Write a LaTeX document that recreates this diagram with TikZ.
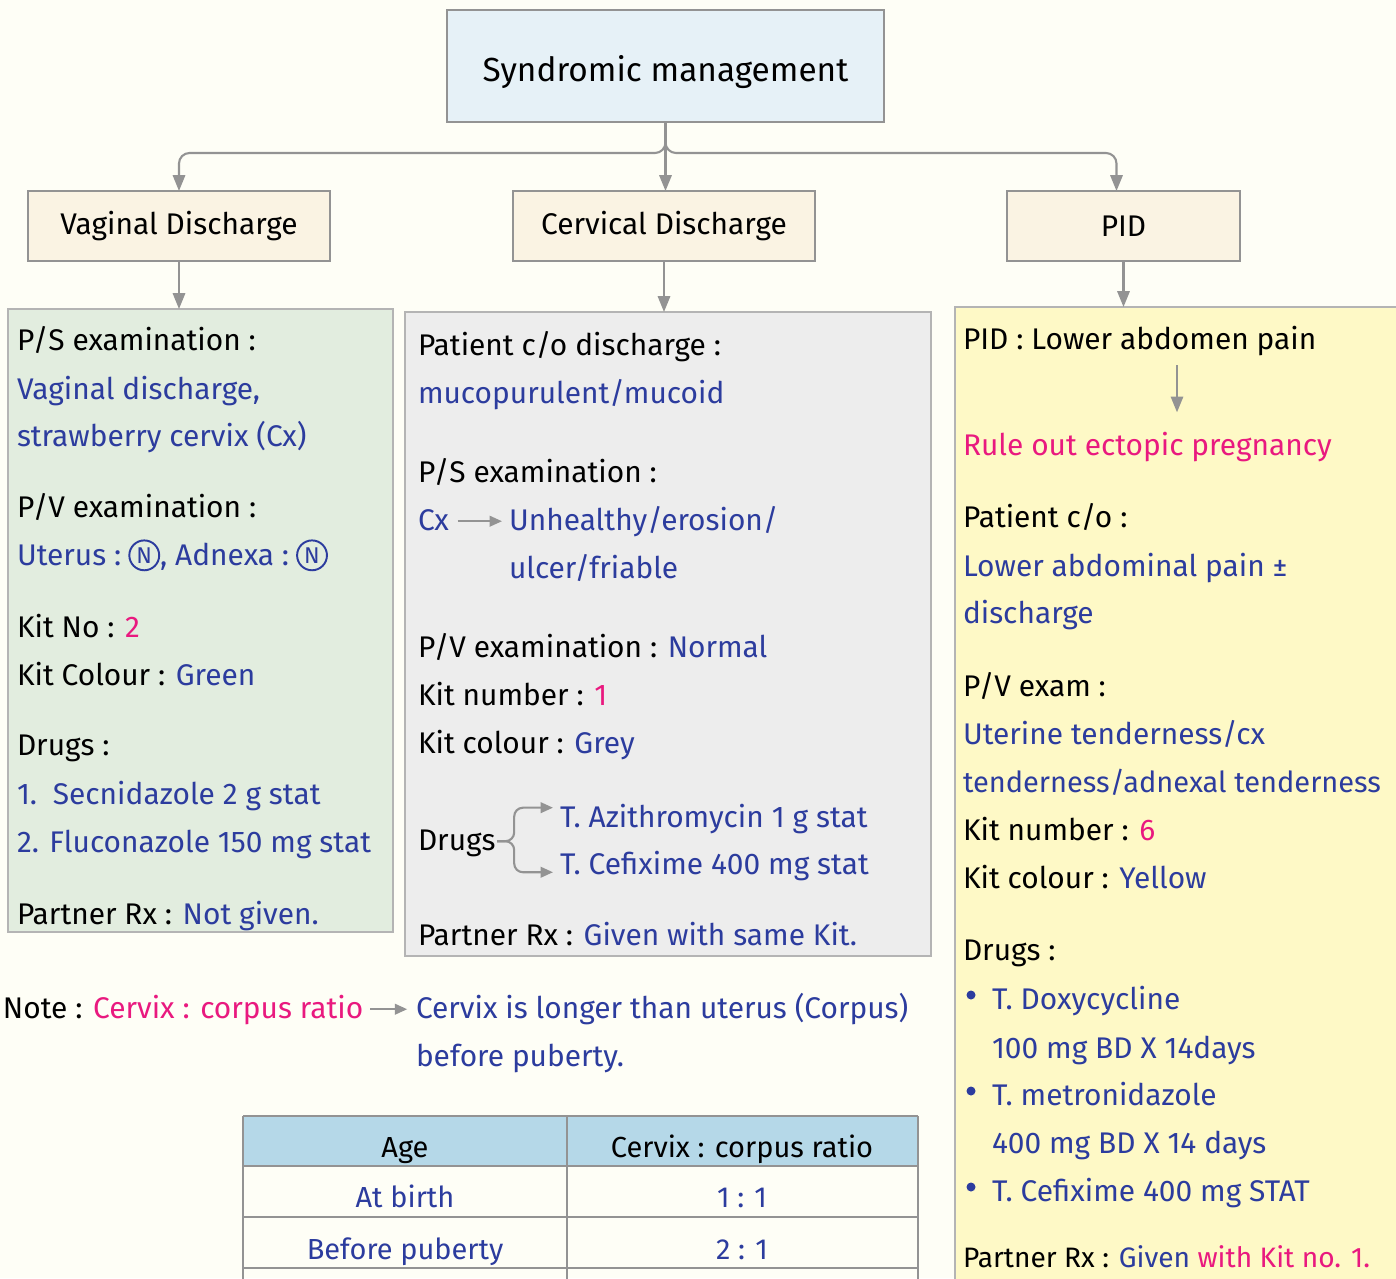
\documentclass[tikz,border=0pt]{standalone}
\usepackage{fontspec}
\setmainfont{Fira Sans}
\usetikzlibrary{arrows.meta,positioning}

\definecolor{bgcol}{HTML}{FEFEF6}
\definecolor{titlefill}{HTML}{E6F1F7}
\definecolor{headfill}{HTML}{FAF3E3}
\definecolor{vdfill}{HTML}{E2EDDF}
\definecolor{cdfill}{HTML}{EDEDED}
\definecolor{pidfill}{HTML}{FEF9C6}
\definecolor{tabhead}{HTML}{B5D8E8}
\definecolor{inkblue}{HTML}{2C3C9E}
\definecolor{inkpink}{HTML}{E9197F}
\definecolor{linegray}{HTML}{939393}
\definecolor{panelgray}{HTML}{B4B4B4}

\newcommand\inkb[1]{\textcolor{inkblue}{#1}}
\newcommand\inkp[1]{\textcolor{inkpink}{#1}}

\tikzset{
  box/.style={draw=linegray, line width=1.3pt, outer sep=0pt, inner sep=0pt,
    font=\fontsize{17}{20}\selectfont},
  panel/.style={draw=panelgray, line width=1.2pt, outer sep=0pt, inner sep=0pt},
  txt/.style={anchor=base west, inner sep=0pt, outer sep=0pt,
    font=\fontsize{17}{20}\selectfont},
  tabtxt/.style={anchor=base, inner sep=0pt, text=inkblue,
    font=\fontsize{16.5}{19}\selectfont},
  circN/.style={circle, draw=inkblue, line width=1.1pt, inner sep=0pt,
    minimum size=17pt, text=inkblue, font=\fontsize{13}{13}\selectfont},
  dot/.style={circle, fill=inkblue, inner sep=0pt, minimum size=9*\px},
  conn/.style={draw=linegray, line width=1.2pt,
    -{Triangle[width=7pt,length=9pt]}},
  smallarr/.style={draw=linegray, line width=1.2pt,
    -{Triangle[width=6pt,length=7pt]}},
}

\begin{document}
\begin{tikzpicture}[x=0.02cm, y=-0.02cm]
\def\px{0.02cm}
\useasboundingbox[fill=bgcol] (0,0) rectangle (1396,1278);

% Top and heading boxes
\node[box, fill=titlefill, minimum width=437*\px, minimum height=112*\px,
  text height=18pt, text depth=0pt,
  font=\fontsize{19}{23}\selectfont] (title) at (665.5,66) {Syndromic management};
\node[box, fill=headfill, minimum width=302*\px, minimum height=70*\px] (vd) at (179,226) {Vaginal Discharge};
\node[box, fill=headfill, minimum width=302*\px, minimum height=70*\px] (cd) at (664,226) {Cervical Discharge};
\node[box, fill=headfill, minimum width=233*\px, minimum height=70*\px] (pid) at (1123.5,226) {PID};

\draw[conn, rounded corners=6pt] (title.south) -- ++(0,31) -| (vd.north);
\draw[conn] (title.south) -- (title.south |- cd.north);
\draw[conn, rounded corners=6pt] (title.south) -- ++(0,31) -| ([xshift=-7*\px]pid.north);

% Panels
\node[panel, fill=vdfill, minimum width=385*\px, minimum height=623*\px] (vdpanel) at (200.5,620.5) {};
\node[panel, fill=cdfill, minimum width=526*\px, minimum height=644*\px] (cdpanel) at (668,634) {};
\node[panel, fill=pidfill, minimum width=445*\px, minimum height=983*\px] (pidpanel) at (1177.5,798.5) {};

\draw[conn] (vd.south) -- (vd.south |- vdpanel.north);
\draw[conn] (cd.south) -- (cd.south |- cdpanel.north);
\draw[conn] (pid.south) -- (pid.south |- pidpanel.north);

% Vaginal discharge
\node[txt] (g1) at (17,350) {P/S examination :};
\node[txt, text=inkblue] (g2) at (17,399) {Vaginal discharge,};
\node[txt, text=inkblue] (g3) at (17,446) {strawberry cervix (Cx)};
\node[txt] (g4) at (17,517) {P/V examination :};
\node[txt, text=inkblue] (gut) at (17,565) {Uterus :};
\node[circN, anchor=west] (gn1) at ([xshift=4pt,yshift=5.5pt]gut.base east) {N};
\node[txt, text=inkblue] (gad) at ([yshift=-5.5pt]gn1.east) {, Adnexa :};
\node[circN, anchor=west] (gn2) at ([xshift=4pt,yshift=5.5pt]gad.base east) {N};
\node[txt] (g5) at (17,637) {Kit No : \inkp{2}};
\node[txt] (g6) at (17,685) {Kit Colour : \inkb{Green}};
\node[txt] (g7) at (17,755) {Drugs :};
\node[txt, text=inkblue] (g8) at (17,804) {1.\hspace{9pt}Secnidazole 2 g stat};
\node[txt, text=inkblue] (g9) at (17,852) {2. Fluconazole 150 mg stat};
\node[txt] (g10) at (17,924) {Partner Rx : \inkb{Not given.}};

% Cervical discharge
\node[txt] (c1) at (418,355) {Patient c/o discharge :};
\node[txt, text=inkblue] (c2) at (418,403) {mucopurulent/mucoid};
\node[txt] (c3) at (418,482) {P/S examination :};
\node[txt, text=inkblue] (ccx) at (418,530) {Cx};
\node[txt, text=inkblue] (cunh) at (509,530) {Unhealthy/erosion/};
\node[txt, text=inkblue] (cul) at (509,578) {ulcer/friable};
\draw[smallarr] ([xshift=5pt,yshift=5pt]ccx.base east) -- ([xshift=-4pt,yshift=5pt]cunh.base west);
\node[txt] (c4) at (418,657) {P/V examination : \inkb{Normal}};
\node[txt] (c5) at (418,705) {Kit number : \inkp{1}};
\node[txt] (c6) at (418,753) {Kit colour : \inkb{Grey}};
\node[txt] (cdrug) at (418,850) {Drugs};
\node[txt, text=inkblue] (caz) at (560,827) {T. Azithromycin 1 g stat};
\node[txt, text=inkblue] (ccef) at (560,874) {T. Cefixime 400 mg stat};
\draw[smallarr, rounded corners=5pt] ([xshift=1pt,yshift=5pt]cdrug.base east) -- ++(17,0) |- ([xshift=-4pt,yshift=11pt]caz.base west);
\draw[smallarr, rounded corners=5pt] ([xshift=1pt,yshift=5pt]cdrug.base east) -- ++(17,0) |- ([xshift=-4pt,yshift=1pt]ccef.base west);
\node[txt] (c7) at (418,945) {Partner Rx : \inkb{Given with same Kit.}};

% PID
\node[txt] (p1) at (963,349) {PID : Lower abdomen pain};
\node[txt, text=inkpink] (prule) at (963,455) {Rule out ectopic pregnancy};
\coordinate (parr) at (1177,365);
\draw[conn] (parr) -- ([yshift=11pt]parr |- prule.north);
\node[txt] (p2) at (963,527) {Patient c/o :};
\node[txt, text=inkblue] (p3) at (963,576) {Lower abdominal pain ±};
\node[txt, text=inkblue] (p4) at (963,623) {discharge};
\node[txt] (p5) at (963,696) {P/V exam :};
\node[txt, text=inkblue] (p6) at (963,744) {Uterine tenderness/cx};
\node[txt, text=inkblue, font=\fontsize{16.5}{20}\selectfont] (p7) at (963,792) {tenderness/adnexal tenderness};
\node[txt] (p8) at (963,840) {Kit number : \inkp{6}};
\node[txt] (p9) at (963,888) {Kit colour : \inkb{Yellow}};
\node[txt] (p10) at (963,960) {Drugs :};
\foreach \yy/\nm in {995/pb1, 1091/pb2, 1187/pb3}
  \node[dot] (\nm) at (971,\yy) {};
\node[txt, text=inkblue] (pd1) at (992,1009) {T. Doxycycline};
\node[txt, text=inkblue] (pd2) at (992,1058) {100 mg BD X 14days};
\node[txt, text=inkblue] (pd3) at (992,1105) {T. metronidazole};
\node[txt, text=inkblue] (pd4) at (992,1153) {400 mg BD X 14 days};
\node[txt, text=inkblue] (pd5) at (992,1201) {T. Cefixime 400 mg STAT};
\node[txt, font=\fontsize{16}{19}\selectfont] (p11) at (963,1267) {Partner Rx : \inkb{Given} \inkp{with Kit no. 1.}};

% Note
\node[txt] (note) at (3,1018) {Note : \inkp{Cervix : corpus ratio}};
\node[txt, text=inkblue] (nb1) at (416,1018) {Cervix is longer than uterus (Corpus)};
\node[txt, text=inkblue] (nb2) at (416,1066) {before puberty.};
\draw[smallarr] ([xshift=4pt,yshift=5pt]note.base east) -- ([xshift=-5pt,yshift=5pt]nb1.base west);

% Table
\fill[tabhead] (243,1116) rectangle (918,1166);
\foreach \yy in {1116,1166,1217,1268,1319}
  \draw[linegray, line width=1.3pt] (243,\yy) -- (918,\yy);
\foreach \xx in {243,567,918}
  \draw[linegray, line width=1.3pt] (\xx,1116) -- (\xx,1319);
\node[tabtxt, text=black] (tage) at (405,1157) {Age};
\node[tabtxt, text=black] (tratio) at (742,1157) {Cervix : corpus ratio};
\node[tabtxt] (tbirth) at (405,1207) {At birth};
\node[tabtxt] (tb11) at (742,1207) {1 : 1};
\node[tabtxt] (tpub) at (405,1259) {Before puberty};
\node[tabtxt] (tp21) at (742,1259) {2 : 1};
\end{tikzpicture}
\end{document}
